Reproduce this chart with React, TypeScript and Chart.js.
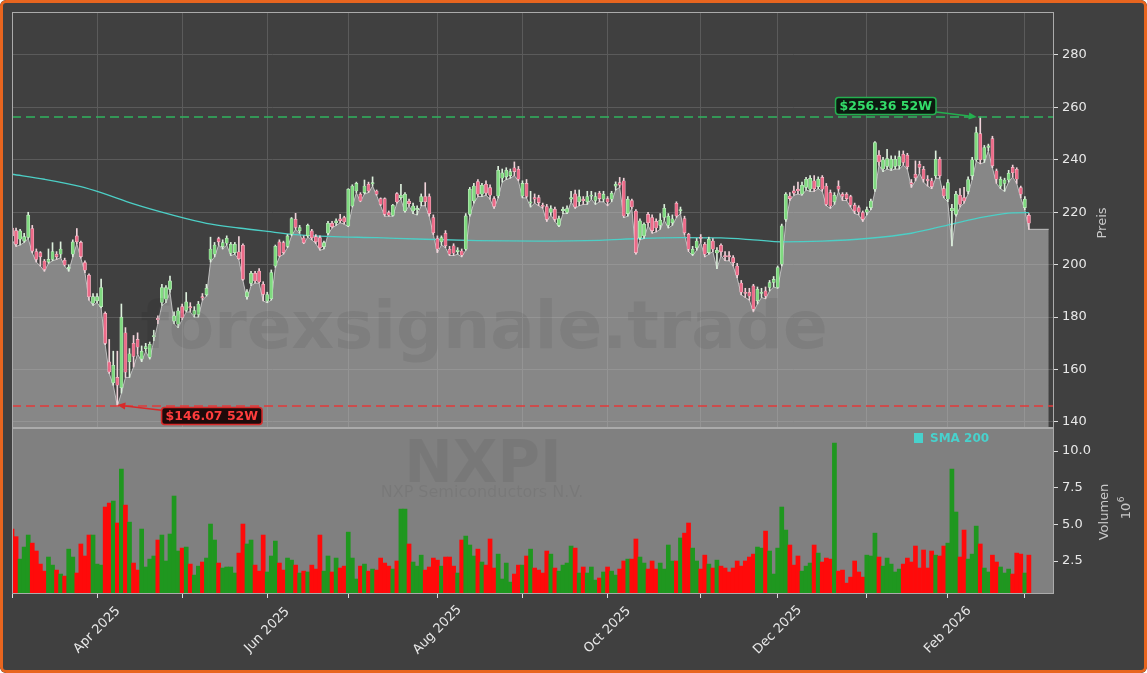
import React, { useEffect, useRef } from 'react';
import { Chart, registerables } from 'chart.js';

Chart.register(...registerables);

const FONT = '"DejaVu Sans", "Liberation Sans", sans-serif';

// ---------------- DATA ----------------
const opens = [
  214, 213, 209.7, 209, 210.4, 213.8, 205, 204.6, 201.4, 201,
  202, 204, 204, 201.7, 198.5, 204, 211, 208.5, 200.8, 196,
  185.3, 186.2, 184, 181.4, 162.9, 155, 157, 153, 174, 163,
  170, 171.5, 164, 168, 164.7, 172.5, 179.5, 185.6, 186.8, 190.6,
  178.5, 177.3, 184, 182.6, 184, 181, 181, 187.8, 188.5, 202,
  204, 210, 206.9, 208.2, 204.4, 204.6, 204.9, 207.4, 187.8, 192.9,
  196.7, 197.6, 192.5, 186.1, 187, 199.5, 208.7, 208.4, 207, 211.6,
  217.3, 212.9, 210.2, 211, 212.9, 210.7, 210.3, 206.9, 212, 215.8,
  216, 217.5, 218, 214.8, 222.4, 228.1, 226.9, 227.5, 230.7, 230.8,
  228.1, 225.2, 225.2, 219.9, 218.8, 227.1, 225.6, 220.5, 224.2, 220.5,
  221, 224, 226, 226, 218, 210, 208.7, 212, 205.9, 207.2,
  205, 205.2, 205.9, 219.2, 224.3, 231.7, 226.9, 230.7, 229.4, 225.2,
  226.2, 233, 233.5, 234, 237, 236.4, 226.2, 231, 223.5, 225.6,
  225.6, 222.6, 222.2, 219.9, 221.2, 215, 220.6, 219.9, 225, 227,
  224, 225, 224, 226.1, 224.5, 227.3, 225, 225.2, 225, 230,
  231.3, 232, 219.5, 224.5, 220.5, 210.3, 211, 219.2, 218, 216.5,
  215, 218, 215, 216, 223.4, 220.6, 217.6, 211.6, 204, 206.5,
  210.3, 207.8, 204.6, 209, 204.5, 207.4, 203.5, 203.5, 202.7, 199.5,
  193, 189.5, 189.5, 191.9, 186.2, 189, 190, 191.3, 193.2, 191.3,
  200.2, 217.3, 226.2, 228.2, 228.8, 227, 229.5, 228.8, 232, 229.8,
  233.3, 230, 227.5, 224, 230, 226.9, 226.9, 226, 222.7, 221.8,
  219.9, 220, 221.8, 228.8, 241.8, 236.5, 237.5, 236.7, 237.5, 237.7,
  242.1, 241.8, 231.3, 234.5, 238.3, 236.4, 232.6, 232, 233.9, 240.2,
  229, 225, 220.6, 219.2, 226.5, 225.6, 228, 234, 240, 250,
  240.2, 244.7, 248.1, 235.8, 230, 231, 232.3, 237.1, 236.4, 229.4,
  221.8, 218.8,
];

const highs = [
  216, 214, 213.5, 212, 220, 215, 206, 205, 202, 206,
  208.4, 205, 208.7, 202.5, 200, 209.5, 213.8, 209, 201.5, 196.5,
  189, 189, 194.5, 182, 171.5, 167, 167, 185, 176, 168,
  173, 174, 169, 170, 170.5, 175, 180.5, 192.5, 192, 195.7,
  182, 183.5, 185, 189.4, 185.5, 184, 186, 189, 192.5, 210.5,
  208.5, 210.5, 209.5, 211, 208.5, 208.5, 210.7, 208, 190.5, 197.5,
  197.5, 198.5, 193.5, 189.5, 198, 207.5, 209.5, 209, 211.5, 218,
  219.6, 215, 211, 215.5, 213.5, 211.5, 211, 209, 216.5, 216.5,
  217.5, 219.2, 218.5, 229, 230.5, 231.5, 227.5, 232.3, 231.5, 233.5,
  228.5, 225.5, 225.5, 220.5, 223, 227.5, 230.7, 227.5, 225, 223.5,
  222.5, 227, 231.3, 227, 219, 211, 211, 213, 207, 208,
  206.5, 206, 219.5, 229.5, 231, 232.5, 231, 232, 230.5, 226,
  237.5, 236.5, 237, 236.5, 239.2, 237.5, 232, 232.5, 228, 227,
  226.5, 223.5, 223, 222.5, 222, 218.5, 222, 222.5, 228, 228.5,
  228.5, 226, 228, 228, 227.5, 228, 228, 226, 228, 231.6,
  233.3, 233, 226, 225, 221, 217.5, 216, 220, 219, 217.5,
  219.5, 223, 219.5, 219, 224, 222, 218.5, 212, 207, 210,
  211.5, 208.5, 210.5, 210, 206.5, 208, 205, 205, 203.5, 200.5,
  194, 191, 191, 192.5, 191.5, 191, 191.5, 194, 195.5, 199.5,
  215.5, 227.5, 227.5, 230, 231.5, 231.5, 233.3, 234, 234, 233.5,
  234, 231, 228.5, 227.5, 232, 227.5, 227.5, 226.5, 223.5, 222.5,
  220.5, 222, 225, 247, 243.5, 241, 244, 241.5, 241.5, 243.4,
  243.4, 242.5, 232.5, 239.6, 239.5, 237.5, 234, 233, 243.4, 241,
  230, 232.5, 223, 228, 229, 229.5, 233.5, 241, 252.5, 256.36,
  245.5, 246, 249, 236.5, 233.5, 233, 236, 238, 237, 230,
  226, 219.5,
];

const lows = [
  209.5, 207, 207.5, 208.5, 210, 204.5, 201, 199.5, 197.5, 200.5,
  201.5, 202, 202.7, 199.5, 197.5, 203, 208, 202.5, 197, 186.5,
  184.5, 185.5, 183.5, 169.5, 158.5, 154, 146.07, 151, 157, 157,
  161, 166, 163, 167, 164, 171, 177.5, 184.5, 185.5, 189.5,
  177.5, 176, 179, 182, 182, 180, 180, 186.5, 188, 201,
  203, 207.5, 206, 207.5, 203.5, 204, 202, 194, 186.8, 192,
  193, 193, 186.2, 185.5, 186.5, 199, 203, 204, 206.5, 211,
  213.5, 212, 208, 210.5, 209.5, 208, 205.5, 206, 211.5, 214,
  215, 216, 215.5, 214.5, 222, 227.5, 224, 227, 227.5, 230,
  226.5, 222.5, 218.5, 218.5, 218.5, 223.5, 225, 220, 222.5, 219.5,
  219, 222.5, 222.5, 218.5, 211.5, 204.6, 207.5, 206.5, 203.5, 203.5,
  204, 203, 205.5, 218.5, 223.5, 226, 226, 226.5, 225, 221.5,
  225.5, 231.5, 232.5, 233, 234, 232, 225.5, 225.5, 222, 223.5,
  222.5, 221.5, 216.5, 219, 216.5, 214.5, 219.5, 219.5, 224, 221.5,
  222.5, 223, 223, 225, 223, 224, 224, 222.5, 224, 228.5,
  229.5, 218, 218.5, 221.5, 204, 209.5, 210, 215, 212, 212.5,
  213.5, 217, 214, 215, 218, 219.5, 211.5, 205, 203.5, 205.5,
  208.5, 203, 204, 205, 198.5, 203.5, 201.5, 201.5, 199.5, 195,
  188.5, 187.5, 186.5, 182, 185, 187.5, 187, 190, 191.5, 191,
  199.5, 216.5, 224.5, 226.5, 227, 226.5, 228.5, 228, 228, 229,
  228, 222.5, 221.5, 223, 228, 224.5, 224.5, 222, 219.5, 219,
  216.5, 219, 221, 228, 238, 235.5, 236.5, 236, 236.5, 236.5,
  238, 236.5, 229.5, 232, 235, 231.5, 230, 229, 233, 233,
  225.5, 224, 207.2, 218.5, 222, 223.5, 227, 232.5, 239.5, 238.5,
  239, 243.5, 237, 231, 229, 228, 231.5, 233.5, 231, 225.5,
  221, 213.5,
];

const closes = [
  211, 207.8, 212.9, 210.7, 218.9, 205.2, 202, 203, 198.2, 202,
  205, 203, 206, 199.9, 198.8, 208.7, 208.7, 203.1, 197.9, 187.8,
  187.8, 187.8, 191.3, 170, 159.1, 161.6, 154, 180, 159, 166,
  165, 168.5, 167, 168.8, 169.6, 173, 179, 191.3, 191.3, 193.8,
  180.5, 182.4, 179.8, 185.8, 183.5, 182.5, 185, 187.3, 191, 206,
  207.5, 208.7, 208.4, 210.1, 207.8, 207.8, 202.3, 194.4, 189.6, 196.7,
  193.8, 193.4, 188.7, 188.6, 197, 207, 203.3, 204.6, 211, 217.6,
  214.2, 214.2, 208.4, 215, 210.3, 208.7, 206.5, 208.4, 215.8, 214.5,
  216.7, 216.8, 216.3, 228.8, 230, 231, 224.3, 230, 228.1, 231.3,
  226.9, 223, 219.2, 218.9, 222.7, 223.9, 226.5, 226.9, 223.3, 222.4,
  221.4, 226, 224, 219.5, 212.2, 206, 210.3, 207.2, 204, 204.4,
  205.6, 203.6, 218.6, 228.8, 230, 226.9, 230.3, 227.3, 226.5, 222.2,
  236, 235, 236, 235.5, 235.5, 232.6, 231, 226, 224, 225,
  223.7, 222.2, 217.3, 221.4, 217.3, 217.6, 221.1, 221.4, 225.6, 222,
  226, 224.4, 226, 226.5, 226, 225.2, 226.9, 223.9, 227.3, 230.7,
  230.3, 218.6, 225, 222, 204.6, 216.7, 215.4, 216, 213, 214,
  217, 221.5, 218.5, 217.5, 218.6, 221, 212.2, 205.9, 205.9, 209,
  210, 204, 209.7, 205.9, 205.5, 204.9, 203, 203, 200.8, 196,
  189.5, 189, 188, 183, 190.6, 189.5, 188, 193.2, 194.4, 198.9,
  214.8, 226.9, 225.2, 227.3, 228.1, 230.3, 232.6, 232.9, 229, 232.6,
  228.8, 223, 222.4, 226.5, 228.8, 226, 225.2, 222.7, 220.5, 220.1,
  217.3, 221, 224.3, 246.6, 239.2, 240, 240.5, 240.2, 240.2, 241.2,
  239, 237.4, 230.7, 233.2, 237.1, 232.6, 232, 229.8, 240.2, 233.9,
  226.2, 231.3, 221.5, 226.9, 223, 224.3, 232.5, 240, 250.4, 240,
  244.7, 245.3, 237.7, 232.6, 232.6, 232.3, 234.9, 235.1, 232.6, 226.9,
  225, 215.8,
];

// volume in millions of shares
const volumes = [
  4.68, 4.16, 2.63, 3.45, 4.27, 3.72, 3.18, 2.29, 1.81, 2.77,
  2.22, 1.88, 1.61, 1.47, 3.31, 2.77, 1.68, 3.66, 2.84, 4.27,
  4.27, 2.29, 2.22, 6.18, 6.45, 6.59, 5.09, 8.77, 6.31, 5.15,
  2.36, 1.88, 4.68, 2.09, 2.63, 2.84, 3.93, 4.27, 2.5, 4.34,
  6.93, 3.18, 3.38, 3.45, 2.29, 1.54, 2.15, 2.43, 2.7, 5.02,
  3.93, 2.36, 2.02, 2.09, 2.09, 1.68, 3.04, 5.02, 3.66, 3.93,
  2.22, 1.81, 4.27, 1.75, 2.84, 3.86, 2.36, 1.88, 2.7, 2.56,
  2.22, 1.68, 1.81, 1.75, 2.22, 1.95, 4.27, 1.81, 2.84, 1.75,
  2.7, 2.02, 2.15, 4.47, 2.7, 1.27, 2.15, 2.29, 1.81, 1.95,
  1.88, 2.7, 2.36, 2.15, 1.95, 2.5, 6.04, 6.04, 3.66, 2.43,
  2.15, 2.9, 1.88, 2.09, 2.7, 2.56, 2.15, 2.77, 2.77, 2.15,
  1.68, 3.93, 4.2, 3.59, 2.84, 3.31, 2.43, 2.22, 4.0, 2.02,
  2.97, 1.27, 2.36, 1.06, 1.61, 2.22, 2.22, 2.84, 3.31, 2.02,
  1.88, 1.68, 3.18, 2.97, 2.02, 1.81, 2.22, 2.36, 3.52, 3.38,
  1.68, 2.09, 1.68, 2.09, 1.2, 1.34, 1.75, 2.09, 1.81, 1.54,
  1.95, 2.5, 2.63, 2.63, 4.0, 2.77, 2.36, 1.95, 2.5, 1.95,
  2.36, 1.95, 3.59, 2.5, 2.5, 4.07, 4.4, 5.09, 3.38, 2.5,
  1.95, 2.9, 2.29, 2.02, 2.56, 2.15, 2.02, 1.75, 2.02, 2.5,
  2.15, 2.5, 2.77, 2.97, 3.45, 3.38, 4.54, 3.18, 1.61, 3.38,
  6.18, 4.61, 3.59, 2.22, 2.84, 1.81, 2.15, 2.36, 3.59, 3.04,
  2.43, 2.7, 2.63, 10.54, 1.81, 1.88, 0.99, 1.4, 2.5, 1.75,
  1.4, 2.9, 2.84, 4.4, 2.77, 2.15, 2.7, 2.29, 1.75, 1.95,
  2.29, 2.7, 2.43, 3.52, 2.02, 3.25, 2.02, 3.18, 2.9, 2.84,
  3.52, 3.72, 8.77, 5.84, 2.77, 4.61, 2.63, 2.97, 4.88, 3.66,
  2.02, 1.75, 2.9, 2.43, 2.09, 1.68, 1.95, 1.61, 3.04, 2.97,
  1.68, 2.9,
];

// SMA 200 read at sample trading-day indices
const smaIdx = [0, 8, 17, 22, 30, 39, 48, 56, 63, 70, 78, 90, 100, 115, 130, 145, 155, 165, 175, 183, 190, 200, 211, 222, 232, 240, 247, 251];
const smaVal = [234.5, 232.6, 229.8, 227.5, 223.2, 219.2, 215.8, 214.0, 212.7, 211.5, 210.8, 210.3, 209.8, 209.2, 209.0, 209.3, 210.0, 210.3, 210.2, 209.5, 208.7, 209.0, 210.0, 212.0, 215.5, 218.2, 219.8, 219.9];

// month starts (trading-day index) and their labels
const xTickIdx = [0, 21, 42, 63, 83, 105, 126, 147, 170, 189, 211, 231, 250];
const xTickLabels = ['', 'Apr 2025', '', 'Jun 2025', '', 'Aug 2025', '', 'Oct 2025', '', 'Dec 2025', '', 'Feb 2026', ''];
const priceTicks = [140, 160, 180, 200, 220, 240, 260, 280];
const volumeTicks = [2.5, 5, 7.5, 10];

const xMin = 0;
const xMax = 257.2;
const priceMin = 137.7;
const priceMax = 296.4;
const volMin = 0.25;
const volMax = 11.57;
const areaTailIdx = 255.9;

const ticker = 'NXPI';
const companyName = 'NXP Semiconductors N.V.';
const watermarkText = 'forexsignale.trade';
const smaLabel = 'SMA 200';

// ---------------- DERIVED ----------------
const n = closes.length;
const indices = closes.map((_, i) => i);
const isUp = closes.map((c, i) => c >= opens[i]);
const high52 = Math.max(...highs);
const low52 = Math.min(...lows);
const iHigh = highs.indexOf(high52);
const iLow = lows.indexOf(low52);

const areaData = [...indices.map((i) => ({ x: i, y: lows[i] })), { x: areaTailIdx, y: lows[n - 1] }];
const smaData = smaIdx.map((x, k) => ({ x, y: smaVal[k] }));
const wickData = indices.map((i) => ({ x: i, y: [lows[i], highs[i]] }));
const bodyData = indices.map((i) => ({ x: i, y: [opens[i], closes[i]] }));
const volData = indices.map((i) => ({ x: i, y: volumes[i] }));

const wickColors = isUp.map((u) => (u ? '#dcefdc' : '#f0d2d9'));
const bodyColors = isUp.map((u) => (u ? '#80da80' : '#ec6a88'));
const bodyBorders = isUp.map((u) => (u ? '#c9efc9' : '#f6c2ce'));
const volColors = isUp.map((u) => (u ? '#1f971f' : '#ff0a0a'));

// ---------------- DRAW HELPERS ----------------
function drawArrow(ctx: any, x1: number, y1: number, x2: number, y2: number, color: string) {
  const ang = Math.atan2(y2 - y1, x2 - x1);
  const hl = 8;
  const hw = 3.5;
  const bx = x2 - hl * Math.cos(ang);
  const by = y2 - hl * Math.sin(ang);
  ctx.save();
  ctx.strokeStyle = color;
  ctx.fillStyle = color;
  ctx.lineWidth = 1.6;
  ctx.beginPath();
  ctx.moveTo(x1, y1);
  ctx.lineTo(bx, by);
  ctx.stroke();
  ctx.beginPath();
  ctx.moveTo(x2, y2);
  ctx.lineTo(bx - hw * Math.sin(ang), by + hw * Math.cos(ang));
  ctx.lineTo(bx + hw * Math.sin(ang), by - hw * Math.cos(ang));
  ctx.closePath();
  ctx.fill();
  ctx.restore();
}

function drawCallout(ctx: any, tipX: number, tipY: number, cx: number, cy: number, text: string, fg: string, border: string, bg: string) {
  ctx.save();
  ctx.font = `bold 12.5px ${FONT}`;
  const w = ctx.measureText(text).width + 8;
  const h = 17;
  const hw = w / 2;
  const hh = h / 2;
  const dx = tipX - cx;
  const dy = tipY - cy;
  const t = Math.min(Math.abs(hw / (dx || 1e-6)), Math.abs(hh / (dy || 1e-6)));
  drawArrow(ctx, cx + dx * t, cy + dy * t, tipX, tipY, border);
  ctx.beginPath();
  ctx.roundRect(cx - hw, cy - hh, w, h, 3);
  ctx.fillStyle = bg;
  ctx.fill();
  ctx.lineWidth = 1.5;
  ctx.strokeStyle = border;
  ctx.stroke();
  ctx.fillStyle = fg;
  ctx.textAlign = 'center';
  ctx.textBaseline = 'middle';
  ctx.fillText(text, cx, cy + 0.5);
  ctx.restore();
}

function drawSpine(chart: any) {
  const { ctx, chartArea: a } = chart;
  ctx.save();
  ctx.strokeStyle = '#ababab';
  ctx.lineWidth = 1;
  ctx.strokeRect(a.left + 0.5, a.top + 0.5, a.right - a.left - 1, a.bottom - a.top - 1);
  ctx.restore();
}

function drawVText(ctx: any, text: string, x: number, y: number, font: string, color: string) {
  ctx.save();
  ctx.translate(x, y);
  ctx.rotate(-Math.PI / 2);
  ctx.font = font;
  ctx.fillStyle = color;
  ctx.textAlign = 'center';
  ctx.textBaseline = 'middle';
  ctx.fillText(text, 0, 0);
  ctx.restore();
}

const pricePlugin = {
  id: 'priceDeco',
  afterDatasetsDraw(chart: any) {
    const { ctx, chartArea: a, scales } = chart;
    const xs = scales.x;
    const ys = scales.y;
    ctx.save();
    ctx.beginPath();
    ctx.rect(a.left, a.top, a.right - a.left, a.bottom - a.top);
    ctx.clip();
    // watermark
    ctx.font = `bold 66px ${FONT}`;
    ctx.fillStyle = 'rgba(0,0,0,0.065)';
    ctx.textAlign = 'center';
    ctx.textBaseline = 'alphabetic';
    ctx.fillText(watermarkText, 484, 348);
    // 52W lines
    ctx.lineWidth = 1.5;
    ctx.setLineDash([9, 5]);
    const yH = ys.getPixelForValue(high52);
    ctx.strokeStyle = '#2fb45e';
    ctx.beginPath();
    ctx.moveTo(a.left, yH);
    ctx.lineTo(a.right, yH);
    ctx.stroke();
    const yL = ys.getPixelForValue(low52);
    ctx.strokeStyle = '#e33a3a';
    ctx.beginPath();
    ctx.moveTo(a.left, yL);
    ctx.lineTo(a.right, yL);
    ctx.stroke();
    ctx.setLineDash([]);
    ctx.restore();

    const hx = xs.getPixelForValue(iHigh) - 3.5;
    drawCallout(ctx, hx, yH, hx - 91, yH - 11, `$${high52.toFixed(2)} 52W`, '#34dd6a', '#24b04f', '#0c1a10');
    const lx = xs.getPixelForValue(iLow);
    drawCallout(ctx, lx, yL - 1, lx + 94.5, yL + 10, `$${low52.toFixed(2)} 52W`, '#ff3d3d', '#d82a2a', '#1e0a0a');
  },
  afterDraw(chart: any) {
    drawSpine(chart);
    drawVText(chart.ctx, 'Preis', 1103, 223, `13px ${FONT}`, '#c8c8c8');
  },
};

const volPlugin = {
  id: 'volDeco',
  beforeDraw(chart: any) {
    const { ctx, chartArea: a } = chart;
    ctx.save();
    ctx.fillStyle = '#808080';
    ctx.fillRect(a.left, a.top, a.right - a.left, a.bottom - a.top);
    ctx.restore();
  },
  beforeDatasetsDraw(chart: any) {
    const { ctx } = chart;
    ctx.save();
    ctx.fillStyle = 'rgba(0,0,0,0.06)';
    ctx.textAlign = 'center';
    ctx.textBaseline = 'alphabetic';
    ctx.font = `bold 58px ${FONT}`;
    ctx.fillText(ticker, 483, 54);
    ctx.font = `16px ${FONT}`;
    ctx.fillText(companyName, 482, 69);
    ctx.restore();
  },
  afterDatasetsDraw(chart: any) {
    const { ctx } = chart;
    ctx.save();
    ctx.fillStyle = '#48d1cc';
    ctx.fillRect(914, 5, 9, 10);
    ctx.font = `bold 12px ${FONT}`;
    ctx.textAlign = 'left';
    ctx.textBaseline = 'middle';
    ctx.fillText(smaLabel, 930, 10.5);
    ctx.restore();
  },
  afterDraw(chart: any) {
    const { ctx, scales } = chart;
    drawSpine(chart);
    drawVText(ctx, 'Volumen', 1105, 84, `13px ${FONT}`, '#c8c8c8');
    // 10^6
    ctx.save();
    ctx.translate(1126.5, 83);
    ctx.rotate(-Math.PI / 2);
    ctx.fillStyle = '#c8c8c8';
    ctx.font = `13px ${FONT}`;
    ctx.textAlign = 'center';
    ctx.textBaseline = 'middle';
    ctx.fillText('10', 0, 0);
    const w10 = ctx.measureText('10').width;
    ctx.font = `9px ${FONT}`;
    ctx.textAlign = 'left';
    ctx.fillText('6', w10 / 2 + 0.5, -5);
    ctx.restore();
    // x labels
    ctx.save();
    ctx.fillStyle = '#e8e8e8';
    ctx.font = `13px ${FONT}`;
    ctx.textAlign = 'center';
    ctx.textBaseline = 'middle';
    xTickIdx.forEach((v, k) => {
      const lab = xTickLabels[k];
      if (!lab) return;
      const px = scales.x.getPixelForValue(v);
      ctx.save();
      ctx.translate(px, 202);
      ctx.rotate(-Math.PI / 4);
      ctx.fillText(lab, 0, 0);
      ctx.restore();
    });
    ctx.restore();
  },
};

function xScaleOpts(onArea: boolean, height: number) {
  return {
    type: 'linear',
    min: xMin,
    max: xMax,
    offset: false,
    display: true,
    grid: onArea
      ? { color: '#5b5b5b', lineWidth: 1, drawTicks: false, offset: false }
      : { drawOnChartArea: false, drawTicks: true, tickLength: 4, tickColor: '#dedede', offset: false },
    border: { display: false },
    ticks: { display: false },
    afterBuildTicks: (s: any) => {
      s.ticks = xTickIdx.map((v) => ({ value: v }));
    },
    afterFit: (s: any) => {
      s.height = height;
      s.paddingLeft = 0;
      s.paddingRight = 0;
    },
  };
}

function yScaleOpts(min: number, max: number, ticks: number[], onArea: boolean, fmt: (v: number) => string) {
  return {
    type: 'linear',
    position: 'right',
    min,
    max,
    grid: onArea
      ? { color: '#5b5b5b', lineWidth: 1, drawTicks: true, tickLength: 4, tickColor: '#dedede' }
      : { drawOnChartArea: false, drawTicks: true, tickLength: 4, tickColor: '#dedede' },
    border: { display: false },
    ticks: {
      color: '#e8e8e8',
      font: { size: 13, family: FONT },
      padding: 4,
      autoSkip: false,
      callback: (v: any) => fmt(Number(v)),
    },
    afterBuildTicks: (s: any) => {
      s.ticks = ticks.map((v) => ({ value: v }));
    },
    afterFit: (s: any) => {
      s.width = 93;
      s.paddingTop = 0;
      s.paddingBottom = 0;
    },
  };
}

export default function App() {
  const priceRef = useRef<HTMLCanvasElement>(null);
  const volRef = useRef<HTMLCanvasElement>(null);

  useEffect(() => {
    Chart.defaults.font.family = FONT;
    const common: any = {
      responsive: false,
      animation: false,
      devicePixelRatio: 1,
      events: [],
      plugins: { legend: { display: false }, tooltip: { enabled: false }, title: { display: false } },
    };

    const priceChart = new Chart(priceRef.current as HTMLCanvasElement, {
      type: 'bar',
      data: {
        datasets: [
          {
            type: 'line',
            label: 'area',
            data: areaData,
            fill: 'start',
            backgroundColor: 'rgba(205,205,205,0.5)',
            borderColor: 'rgba(222,222,222,0.75)',
            borderWidth: 1,
            pointRadius: 0,
            tension: 0,
            order: 4,
            clip: 0,
          },
          {
            type: 'line',
            label: smaLabel,
            data: smaData,
            borderColor: '#4ccfc6',
            borderWidth: 1.3,
            pointRadius: 0,
            cubicInterpolationMode: 'monotone',
            fill: false,
            order: 3,
            clip: 0,
          },
          {
            type: 'bar',
            label: 'wick',
            data: wickData,
            backgroundColor: wickColors,
            barThickness: 1,
            grouped: false,
            order: 2,
            clip: 0,
          },
          {
            type: 'bar',
            label: 'body',
            data: bodyData,
            backgroundColor: bodyColors,
            borderColor: bodyBorders,
            borderWidth: 0.6,
            borderSkipped: false,
            barThickness: 3.2,
            minBarLength: 1.2,
            grouped: false,
            order: 1,
            clip: 0,
          },
        ] as any,
      },
      options: {
        ...common,
        layout: { padding: { left: 12, top: 12, right: 0, bottom: 0 } },
        scales: {
          x: xScaleOpts(true, 0),
          y: yScaleOpts(priceMin, priceMax, priceTicks, true, (v) => String(v)),
        } as any,
      },
      plugins: [pricePlugin],
    } as any);

    const volChart = new Chart(volRef.current as HTMLCanvasElement, {
      type: 'bar',
      data: {
        datasets: [
          {
            label: 'Volumen',
            data: volData,
            backgroundColor: volColors,
            barPercentage: 1,
            categoryPercentage: 1,
            grouped: false,
            borderWidth: 0,
            clip: 0,
          },
        ] as any,
      },
      options: {
        ...common,
        layout: { padding: { left: 12, top: 0, right: 0, bottom: 0 } },
        scales: {
          x: xScaleOpts(false, 79),
          y: yScaleOpts(volMin, volMax, volumeTicks, false, (v) => v.toFixed(1)),
        } as any,
      },
      plugins: [volPlugin],
    } as any);

    return () => {
      priceChart.destroy();
      volChart.destroy();
    };
  }, []);

  return (
    <div
      style={{
        position: 'absolute',
        left: 0,
        top: 0,
        width: 1147,
        height: 673,
        background: '#404040',
        borderRadius: 6,
        overflow: 'hidden',
      }}
    >
      <canvas
        ref={priceRef}
        width={1147}
        height={428}
        style={{ position: 'absolute', left: 0, top: 0, width: 1147, height: 428 }}
      />
      <canvas
        ref={volRef}
        width={1147}
        height={245}
        style={{ position: 'absolute', left: 0, top: 428, width: 1147, height: 245 }}
      />
      <div
        style={{
          position: 'absolute',
          left: 0,
          top: 0,
          width: 1147,
          height: 673,
          border: '3px solid #e8651f',
          borderRadius: 6,
          boxSizing: 'border-box',
          pointerEvents: 'none',
        }}
      />
    </div>
  );
}
